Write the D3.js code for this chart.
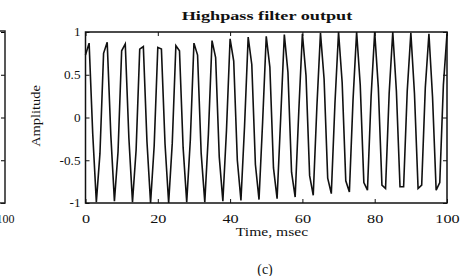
<!DOCTYPE html>
<html>
<head>
<meta charset="utf-8">
<script src="https://cdn.jsdelivr.net/npm/d3@7"></script>
<style>
  body { margin: 0; background: #fff; }
  text { font-family: "Liberation Serif", "Times New Roman", serif; fill: #111; }
</style>
</head>
<body>
<svg width="467" height="276"></svg>
<script>
// highpass filter output, one sample per msec
const sampleStepMs = 1;
const amplitude = [
  0.73, 0.87, -0.19, -0.99, -0.42,
  0.75, 0.88, -0.20, -0.98, -0.40,
  0.78, 0.86, -0.24, -0.99, -0.38,
  0.80, 0.83, -0.28, -1.00, -0.33,
  0.82, 0.80, -0.31, -1.00, -0.30,
  0.84, 0.78, -0.35, -0.99, -0.26,
  0.87, 0.73, -0.42, -0.99, -0.19,
  0.90, 0.70, -0.46, -0.98, -0.15,
  0.92, 0.66, -0.50, -0.97, -0.10,
  0.94, 0.62, -0.55, -0.96, -0.05,
  0.95, 0.59, -0.59, -0.95, 0.00,
  0.97, 0.53, -0.64, -0.93, 0.07,
  0.98, 0.49, -0.68, -0.91, 0.12,
  0.99, 0.45, -0.71, -0.89, 0.16,
  1.00, 0.41, -0.74, -0.87, 0.20,
  1.00, 0.38, -0.76, -0.85, 0.24,
  1.00, 0.35, -0.79, -0.83, 0.28,
  1.00, 0.31, -0.81, -0.81, 0.31,
  0.99, 0.28, -0.83, -0.79, 0.35,
  0.98, 0.24, -0.85, -0.76, 0.38,
  0.98
];
const xTicks = [0, 20, 40, 60, 80, 100];
const yTicks = [-1, -0.5, 0, 0.5, 1];
const yTickLabels = ["-1", "-0.5", "0", "0.5", "1"];

const svg = d3.select("svg");
const plotLeft = 85.5, plotRight = 447, plotTop = 32, plotBottom = 203;

const x = d3.scaleLinear().domain([0, 100]).range([plotLeft, plotRight]);
const y = d3.scaleLinear().domain([-1, 1]).range([plotBottom, plotTop]);

// stretch text a bit, the scan is wider than the font
function widen(sel, k) {
  sel.each(function () {
    const w = this.getComputedTextLength();
    d3.select(this).attr("textLength", w * k).attr("lengthAdjust", "spacingAndGlyphs");
  });
}

// signal
const line = d3.line()
  .x((d, i) => x(i * sampleStepMs))
  .y(d => y(d));

svg.append("path")
  .datum(amplitude)
  .attr("d", line)
  .attr("fill", "none")
  .attr("stroke", "#111")
  .attr("stroke-width", 1.6);

// axes, ticks inward like matlab
const xAxis = svg.append("g")
  .attr("transform", `translate(0,${plotBottom})`)
  .call(d3.axisBottom(x).tickValues(xTicks).tickSize(-4).tickSizeOuter(0).tickPadding(11));
svg.append("g")
  .attr("transform", `translate(0,${plotTop})`)
  .call(d3.axisTop(x).tickValues(xTicks).tickSize(-4).tickSizeOuter(0).tickFormat(""));
const yAxis = svg.append("g")
  .attr("transform", `translate(${plotLeft},0)`)
  .call(d3.axisLeft(y).tickValues(yTicks).tickSize(-4).tickSizeOuter(0).tickPadding(5)
    .tickFormat((d, i) => yTickLabels[i]));
svg.append("g")
  .attr("transform", `translate(${plotRight},0)`)
  .call(d3.axisRight(y).tickValues(yTicks).tickSize(-4).tickSizeOuter(0).tickFormat(""));

svg.selectAll(".domain").remove();
svg.selectAll(".tick line").attr("stroke", "#111").attr("stroke-width", 1);
svg.selectAll(".tick text").style("font-size", "12px").style("font-family", null);
widen(xAxis.selectAll(".tick text"), 1.35);
widen(yAxis.selectAll(".tick text"), 1.1);

svg.append("rect")
  .attr("x", plotLeft).attr("y", plotTop)
  .attr("width", plotRight - plotLeft).attr("height", plotBottom - plotTop)
  .attr("fill", "none")
  .attr("stroke", "#111")
  .attr("stroke-width", 1.5);

// titles
svg.append("text")
  .attr("x", 267).attr("y", 20)
  .attr("text-anchor", "middle")
  .style("font-size", "13px")
  .style("font-weight", "bold")
  .text("Highpass filter output")
  .call(widen, 1.4);

svg.append("text")
  .attr("x", 272).attr("y", 236)
  .attr("text-anchor", "middle")
  .style("font-size", "12px")
  .text("Time, msec")
  .call(widen, 1.3);

svg.append("text")
  .attr("transform", `translate(40,116) rotate(-90)`)
  .attr("text-anchor", "middle")
  .style("font-size", "12px")
  .text("Amplitude")
  .call(widen, 1.2);

svg.append("text")
  .attr("x", 265).attr("y", 274)
  .attr("text-anchor", "middle")
  .style("font-size", "14px")
  .text("(c)");

// right edge of the neighbouring panel (b), cut off by the crop
const xPrev = d3.scaleLinear().domain([0, 100]).range([-360, 5]);
const prev = svg.append("g");
prev.append("g")
  .attr("transform", `translate(${xPrev(100)},0)`)
  .call(d3.axisRight(y).tickValues(yTicks).tickSize(-4).tickSizeOuter(0).tickFormat(""));
prev.append("g")
  .attr("transform", `translate(0,${plotBottom})`)
  .call(d3.axisBottom(xPrev).tickValues([100]).tickSize(0).tickPadding(11));
prev.selectAll(".domain").remove();
prev.selectAll("text").style("font-size", "12px").style("font-family", null);
prev.append("path")
  .attr("d", `M0,${plotTop - 1}H${xPrev(100)}V${plotBottom}H0`)
  .attr("fill", "none")
  .attr("stroke", "#222")
  .attr("stroke-width", 1.5);
</script>
</body>
</html>
